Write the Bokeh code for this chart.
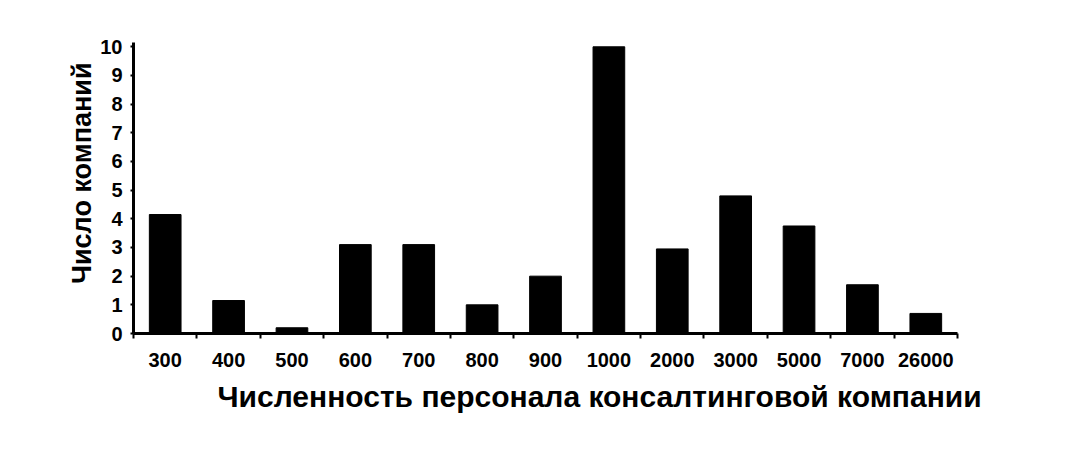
from bokeh.plotting import figure
from bokeh.models import Range1d, FixedTicker, Title
from bokeh.embed import file_html
from bokeh.resources import INLINE

# Data
categories = ["300", "400", "500", "600", "700", "800", "900",
              "1000", "2000", "3000", "5000", "7000", "26000"]
counts = [4.15, 1.15, 0.2, 3.1, 3.1, 1.0, 2.0, 10.0, 2.95, 4.8, 3.75, 1.7, 0.7]
y_ticks = [0, 1, 2, 3, 4, 5, 6, 7, 8, 9, 10]

x_title = "Численность персонала консалтинговой компании"
y_title = "Число компаний"

n = len(categories)
xs = list(range(n))

p = figure(width=1065, height=446, output_backend="svg", toolbar_location=None,
           x_range=Range1d(-0.5, n - 0.5), y_range=Range1d(0, 10.15),
           min_border_left=133, min_border_right=108,
           min_border_top=42, min_border_bottom=113)
p.outline_line_color = None
p.background_fill_color = "white"
p.border_fill_color = "white"
p.xgrid.visible = False
p.ygrid.visible = False

p.vbar(x=xs, top=counts, width=0.5, bottom=0, fill_color="black", line_color="black")

FONT = "Liberation Sans"

# X axis
xa = p.xaxis[0]
xa.ticker = FixedTicker(ticks=xs, minor_ticks=[i - 0.5 for i in range(n + 1)])
xa.major_label_overrides = {i: c for i, c in enumerate(categories)}
xa.major_tick_line_color = None
xa.major_tick_out = 0
xa.major_tick_in = 0
xa.minor_tick_line_color = "black"
xa.minor_tick_line_width = 2
xa.minor_tick_out = 5
xa.minor_tick_in = 0
xa.axis_line_width = 3
xa.axis_line_color = "black"
xa.major_label_text_font = FONT
xa.major_label_text_font_style = "bold"
xa.major_label_text_font_size = "20px"
xa.major_label_text_color = "black"
xa.major_label_standoff = 14

# X title (offset to the right as in the reference)
p.add_layout(Title(text=x_title, align="left", offset=84, standoff=16,
                   text_font=FONT, text_font_style="bold",
                   text_font_size="30px", text_color="black"), "below")

# Y axis
ya = p.yaxis[0]
ya.ticker = FixedTicker(ticks=y_ticks)
ya.minor_tick_line_color = None
ya.major_tick_out = 3
ya.major_tick_in = 0
ya.major_tick_line_width = 2
ya.axis_line_width = 3
ya.axis_line_color = "black"
ya.major_label_text_font = FONT
ya.major_label_text_font_style = "bold"
ya.major_label_text_font_size = "20px"
ya.major_label_text_color = "black"
ya.major_label_standoff = 8

# Y title (shifted up as in the reference)
p.add_layout(Title(text=y_title, align="right", offset=20, standoff=2,
                   text_font=FONT, text_font_style="bold",
                   text_font_size="27px", text_color="black"), "left")

open("out.html", "w").write(file_html(p, INLINE))
